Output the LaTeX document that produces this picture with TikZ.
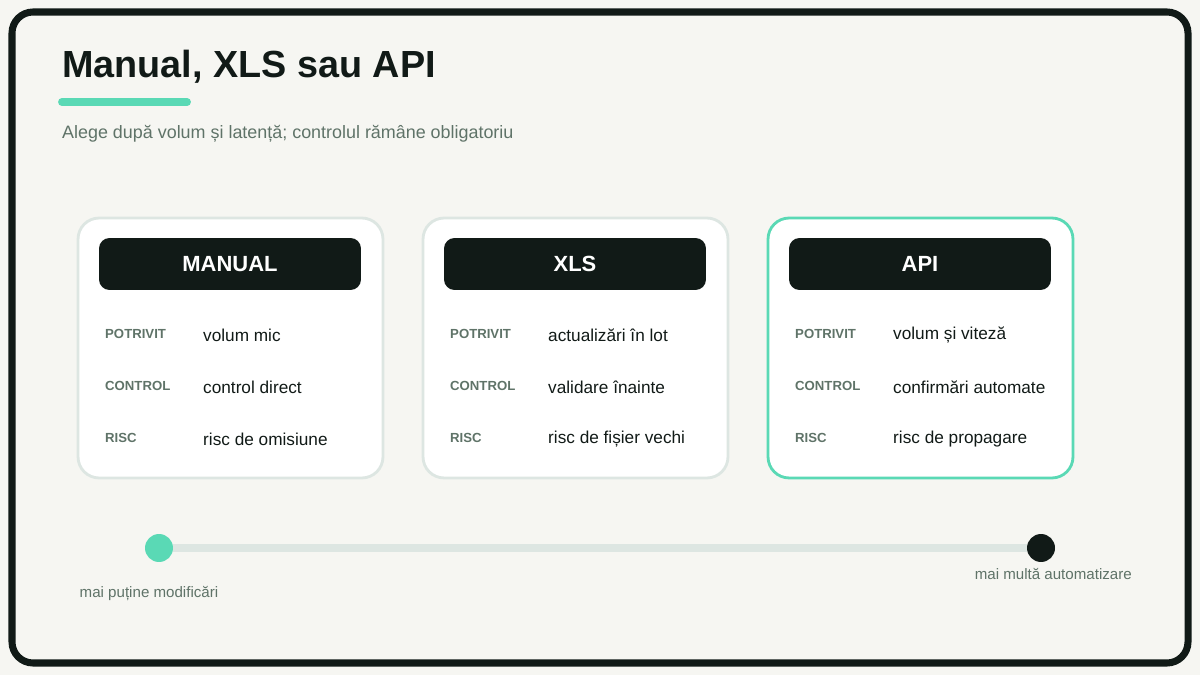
\documentclass[tikz,border=0pt]{standalone}
\usepackage{fontspec}
\setmainfont{Liberation Sans}
\usetikzlibrary{positioning}
\definecolor{ink}{HTML}{111A17}
\definecolor{paper}{HTML}{F6F6F2}
\definecolor{mint}{HTML}{5AD9B5}
\definecolor{edge}{HTML}{DDE6E2}
\definecolor{muted}{HTML}{5F7368}
\begin{document}
\begin{tikzpicture}[
    x=0.02cm, y=-0.02cm,
    card/.style={draw=edge, line width=1.6pt, fill=white, rounded corners=12pt, minimum width=6.1cm, minimum height=5.2cm},
    head/.style={fill=ink, rounded corners=6pt, minimum width=5.24cm, minimum height=1.04cm, text=white, font=\bfseries\fontsize{12.5}{14}\selectfont},
    key/.style={anchor=west, text=muted, font=\bfseries\fontsize{7.5}{9}\selectfont},
    val/.style={anchor=west, text=ink, font=\fontsize{9.8}{12}\selectfont},
    note/.style={text=muted, font=\fontsize{8.6}{10}\selectfont}
]
    \useasboundingbox (0,0) rectangle (1200,675);
    \fill[paper] (0,0) rectangle (1200,675);
    \draw[ink, line width=4pt, fill=paper, rounded corners=12pt] (12,12) rectangle (1188,663);

    \node[anchor=base west, text=ink, font=\bfseries\fontsize{21.5}{24}\selectfont] (title) at (56,78) {Manual, XLS sau API};
    \draw[mint, line width=4.5pt, line cap=round] (62,102) -- (187,102);
    \node[anchor=base west, text=muted, font=\fontsize{10.2}{12}\selectfont] (sub) at (56,139) {Alege după volum și latență; controlul rămâne obligatoriu};

    % cards
    \node[card] (c1) at (230.5,348) {};
    \node[card] (c2) at (575.5,348) {};
    \node[card, draw=mint] (c3) at (920.5,348) {};

    \node[head] (h1) at (230,264) {MANUAL};
    \node[head] (h2) at (575,264) {XLS};
    \node[head] (h3) at (920,264) {API};

    \node[key] (p1) at (99,334) {POTRIVIT};
    \node[key] (k1) at (99,386) {CONTROL};
    \node[key] (r1) at (99,438) {RISC};
    \node[val] at (197,335) {volum mic};
    \node[val] at (197,387) {control direct};
    \node[val] at (197,439) {risc de omisiune};

    \node[key] (p2) at (444,334) {POTRIVIT};
    \node[key] (k2) at (444,386) {CONTROL};
    \node[key] (r2) at (444,438) {RISC};
    \node[val] at (542,335) {actualizări în lot};
    \node[val] at (542,387) {validare înainte};
    \node[val] at (542,439) {risc de fișier vechi};

    \node[key] (p3) at (789,334) {POTRIVIT};
    \node[key] (k3) at (789,386) {CONTROL};
    \node[key] (r3) at (789,438) {RISC};
    \node[val] at (887,335) {volum și viteză};
    \node[val] at (887,387) {confirmări automate};
    \node[val] at (887,439) {risc de propagare};

    % scale
    \node[circle, fill=mint, minimum size=0.56cm, inner sep=0pt] (lo) at (159,548) {};
    \node[circle, fill=ink, minimum size=0.56cm, inner sep=0pt] (hi) at (1041,548) {};
    \draw[edge, line width=4.5pt] (lo) -- (hi);
    \node[note] (lol) at (149,594) {mai puține modificări};
    \node[note, anchor=east] (hil) at (1138,574) {mai multă automatizare};
\end{tikzpicture}
\end{document}
